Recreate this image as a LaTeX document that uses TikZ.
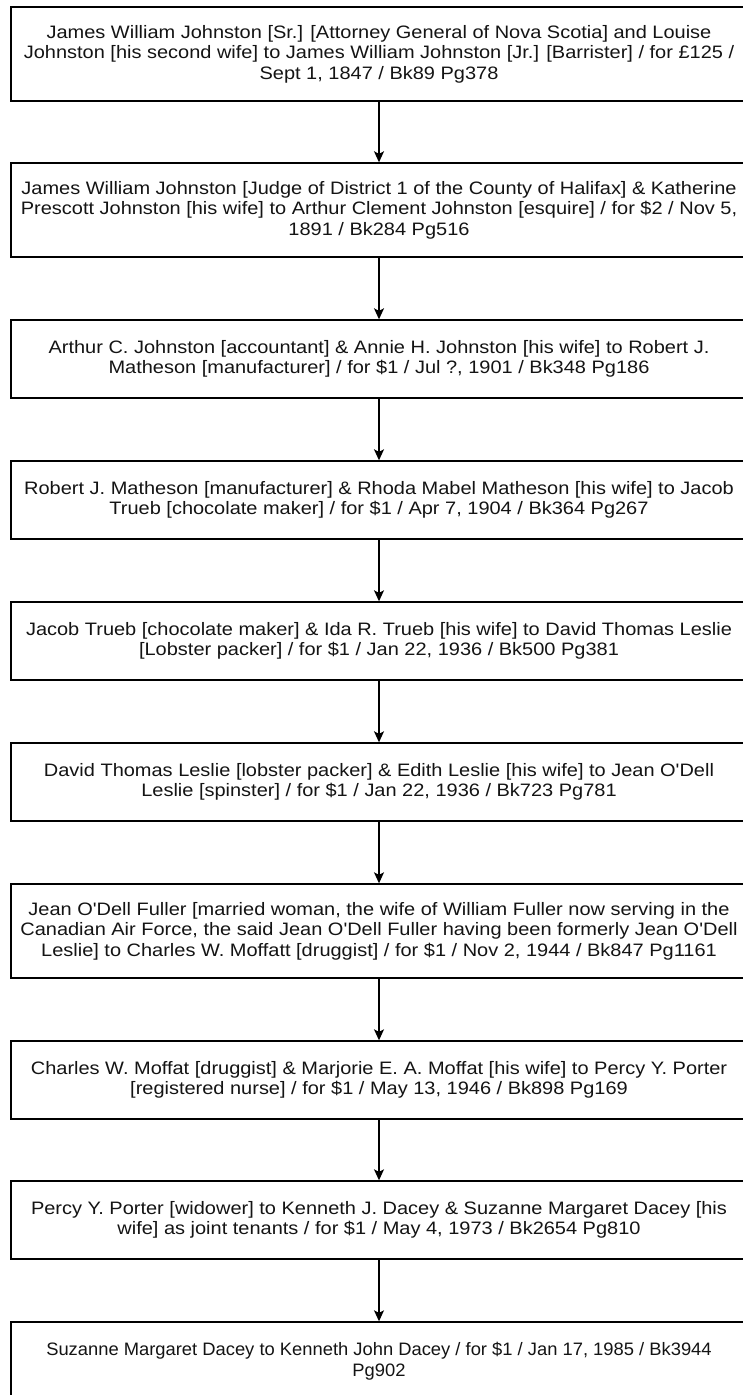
\documentclass[tikz,border=0pt]{standalone}
\usepackage{fontspec}
\setmainfont{Liberation Sans}[Ligatures=TeXOff, FakeStretch=1.11]
\newfontfamily\deednarrow{Liberation Sans}[Ligatures=TeXOff, FakeStretch=1.02]
\usetikzlibrary{arrows.meta}
\begin{document}
\begin{tikzpicture}[x=1pt,y=-1pt,
  deed/.style={draw=black, line width=1.4pt, fill=white, minimum width=736pt, inner sep=0pt,
    align=center, text=black!92, font=\fontsize{18}{20.4}\selectfont},
  flow/.style={draw=black, line width=1.4pt, -{Stealth[length=11pt,width=10pt,inset=2.5pt]}}]
\useasboundingbox[fill=white] (0,0) rectangle (743,1395);
\node[deed, minimum height=94pt] (b1) at (379,54) {James William Johnston [Sr.] [Attorney General of Nova Scotia] and Louise\\Johnston [his second wife] to James William Johnston [Jr.] [Barrister] / for £125 /\\Sept 1, 1847 / Bk89 Pg378};
\node[deed, minimum height=94pt] (b2) at (379,210) {James William Johnston [Judge of District 1 of the County of Halifax] \& Katherine\\Prescott Johnston [his wife] to Arthur Clement Johnston [esquire] / for \$2 / Nov 5,\\1891 / Bk284 Pg516};
\node[deed, minimum height=78pt] (b3) at (379,359) {Arthur C. Johnston [accountant] \& Annie H. Johnston [his wife] to Robert J.\\Matheson [manufacturer] / for \$1 / Jul ?, 1901 / Bk348 Pg186};
\node[deed, minimum height=78pt] (b4) at (379,500) {Robert J. Matheson [manufacturer] \& Rhoda Mabel Matheson [his wife] to Jacob\\Trueb [chocolate maker] / for \$1 / Apr 7, 1904 / Bk364 Pg267};
\node[deed, minimum height=78pt] (b5) at (379,641) {Jacob Trueb [chocolate maker] \& Ida R. Trueb [his wife] to David Thomas Leslie\\{[}Lobster packer{]} / for \$1 / Jan 22, 1936 / Bk500 Pg381};
\node[deed, minimum height=78pt] (b6) at (379,782) {David Thomas Leslie [lobster packer] \& Edith Leslie [his wife] to Jean O'Dell\\Leslie [spinster] / for \$1 / Jan 22, 1936 / Bk723 Pg781};
\node[deed, minimum height=94pt] (b7) at (379,931) {Jean O'Dell Fuller [married woman, the wife of William Fuller now serving in the\\Canadian Air Force, the said Jean O'Dell Fuller having been formerly Jean O'Dell\\Leslie] to Charles W. Moffatt [druggist] / for \$1 / Nov 2, 1944 / Bk847 Pg1161};
\node[deed, minimum height=78pt] (b8) at (379,1080) {Charles W. Moffat [druggist] \& Marjorie E. A. Moffat [his wife] to Percy Y. Porter\\{[}registered nurse{]} / for \$1 / May 13, 1946 / Bk898 Pg169};
\node[deed, minimum height=78pt] (b9) at (379,1220) {Percy Y. Porter [widower] to Kenneth J. Dacey \& Suzanne Margaret Dacey [his\\wife] as joint tenants / for \$1 / May 4, 1973 / Bk2654 Pg810};
\node[deed, minimum height=78pt, font=\fontsize{18}{20.4}\deednarrow] (b10) at (379,1361) {Suzanne Margaret Dacey to Kenneth John Dacey / for \$1 / Jan 17, 1985 / Bk3944\\Pg902};
\foreach \a/\b in {b1/b2,b2/b3,b3/b4,b4/b5,b5/b6,b6/b7,b7/b8,b8/b9,b9/b10}
  \draw[flow] (\a) -- (\b);
\end{tikzpicture}
\end{document}
